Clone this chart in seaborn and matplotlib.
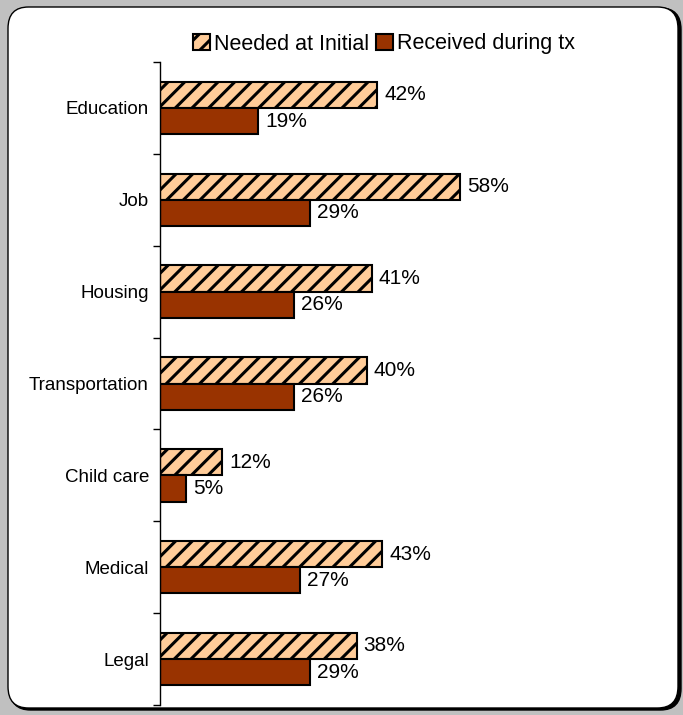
import matplotlib
matplotlib.use("Agg")
import matplotlib.pyplot as plt
import seaborn as sns
import pandas as pd
from matplotlib.patches import FancyBboxPatch, Patch

categories = ["Education", "Job", "Housing", "Transportation", "Child care", "Medical", "Legal"]
needed = [42, 58, 41, 40, 12, 43, 38]
received = [19, 29, 26, 26, 5, 27, 29]
series = ["Needed at Initial", "Received during tx"]
colors = ["#FFCC99", "#993300"]

df = pd.DataFrame({
    "cat": categories * 2,
    "val": needed + received,
    "series": [series[0]] * len(categories) + [series[1]] * len(categories),
})

sns.set_style("white")
plt.rcParams['font.family'] = ['Liberation Sans', 'DejaVu Sans']
plt.rcParams['hatch.linewidth'] = 2.2
plt.rcParams['text.color'] = 'black'
plt.rcParams['ytick.color'] = 'black'
plt.rcParams['ytick.labelcolor'] = 'black'

fig = plt.figure(figsize=(6.83, 7.15), dpi=100)
fig.patch.set_facecolor("#C0C0C0")

# panel with shadow
shadow = FancyBboxPatch((10/683, 5/715), 671/683, 702/715,
                        boxstyle="round,pad=0,rounding_size=0.03",
                        transform=fig.transFigure, facecolor="black",
                        edgecolor="black", zorder=-2)
panel = FancyBboxPatch((8/683, 7/715), 670/683, 701/715,
                       boxstyle="round,pad=0,rounding_size=0.03",
                       transform=fig.transFigure, facecolor="white",
                       edgecolor="black", linewidth=1.0, zorder=-1)
fig.patches.extend([shadow, panel])

ax = fig.add_axes([160/683, (715-705)/715, (641-160)/683, (705-62)/715])
ax.set_zorder(2)
ax.set_facecolor("none")

sns.barplot(data=df, y="cat", x="val", hue="series", order=categories,
            hue_order=series, palette=colors, orient="h", width=0.57,
            edgecolor="black", linewidth=1.5, saturation=1, ax=ax, legend=False)

n = len(categories)
for i, p in enumerate(ax.patches[:2 * n]):
    if i < n:
        p.set_hatch("//")
    w = p.get_width()
    y = p.get_y() + p.get_height() / 2
    ax.annotate(f"{int(round(w))}%", (w, y), xytext=(5, 0),
                textcoords="offset points", va="center", ha="left",
                fontsize=15, color="black")

ax.set_xlim(0, 93)
ax.set_ylim(n - 0.5, -0.5)
ax.set_xlabel("")
ax.set_ylabel("")
ax.set_xticks([])
for s in ["top", "right", "bottom"]:
    ax.spines[s].set_visible(False)
ax.spines["left"].set_color("black")
ax.spines["left"].set_linewidth(1.0)
ax.set_yticks(range(n))
ax.set_yticklabels(categories, fontsize=13.5, color="black")
ax.set_yticks([i - 0.5 for i in range(n + 1)], minor=True)
ax.tick_params(axis="y", which="major", length=0, pad=8)
ax.tick_params(axis="y", which="minor", length=5, width=1, color="black", left=True)

handles = [Patch(facecolor=colors[0], edgecolor="black", hatch="//", linewidth=1.5),
           Patch(facecolor=colors[1], edgecolor="black", linewidth=1.5)]
leg = fig.legend(handles, series, loc="center", bbox_to_anchor=(384/683, (715-44)/715),
                 ncol=2, frameon=False, fontsize=15.5, handlelength=0.8, handleheight=0.8,
                 handletextpad=0.2, columnspacing=0.3)
for t in leg.get_texts():
    t.set_color("black")
leg.set_zorder(3)

fig.savefig("out.png", dpi=100, facecolor=fig.get_facecolor())
